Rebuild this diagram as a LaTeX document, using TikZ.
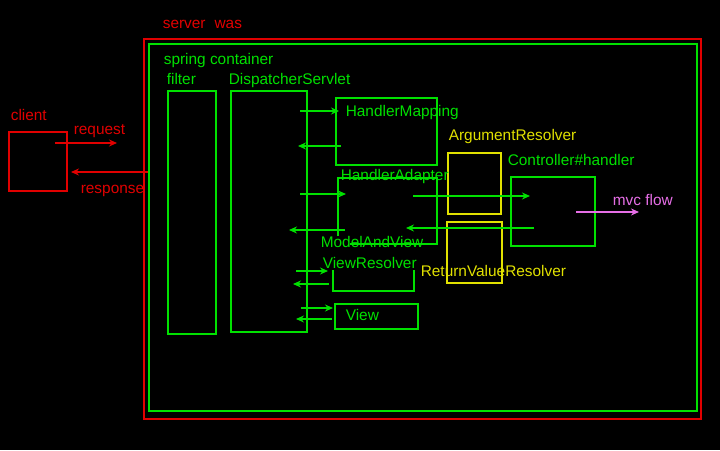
\documentclass[tikz,border=0pt]{standalone}
\usepackage{fontspec}
\setmainfont{Liberation Sans}
\usetikzlibrary{arrows.meta}
\definecolor{cred}{RGB}{225,0,0}
\definecolor{cgreen}{RGB}{0,225,0}
\definecolor{cyellow}{RGB}{225,225,0}
\definecolor{cviolet}{RGB}{230,110,230}
\begin{document}
\begin{tikzpicture}[x=1pt,y=-1pt,line width=1.6pt,
  bx/.style={draw,inner sep=0pt,anchor=north west},
  lbl/.style={anchor=west,inner sep=0pt,text height=11pt,text depth=2pt,font=\fontsize{15.4}{18}\selectfont},
  arr/.style={-{Stealth[length=8pt,width=7pt]}}]
\useasboundingbox (0,0) rectangle (720,450);
\fill[black] (0,0) rectangle (720,450);
% containers
\node[bx,cred,minimum width=557pt,minimum height=380pt] (server) at (143,38) {};
\node[bx,cgreen,minimum width=548pt,minimum height=367pt] (spring) at (148,43) {};
\node[bx,cgreen,minimum width=48pt,minimum height=243pt] (filter) at (167,90) {};
\node[bx,cgreen,minimum width=76pt,minimum height=241pt] (ds) at (230,90) {};
\node[bx,cred,minimum width=58pt,minimum height=59pt] (client) at (8,131) {};
\node[bx,cgreen,minimum width=101pt,minimum height=67pt] (hm) at (335,97) {};
\node[bx,cyellow,minimum width=53pt,minimum height=61pt] (ar) at (447,152) {};
\node[bx,cyellow,minimum width=55pt,minimum height=61pt] (rvr) at (446,221) {};
\node[bx,cgreen,minimum width=84pt,minimum height=69pt] (ctrl) at (510,176) {};
\node[bx,cgreen,minimum width=83pt,minimum height=25pt] (view) at (334,303) {};
% HandlerAdapter box (partly open)
\coordinate (ha1) at (350,244);
\coordinate (ha2) at (437,244);
\coordinate (ha3) at (437,178);
\coordinate (ha4) at (338,178);
\coordinate (ha5) at (338,236);
\draw[cgreen] (ha1) -- (ha2) -- (ha3) -- (ha4) -- (ha5);
% ViewResolver bracket
\coordinate (vr1) at (333,270);
\coordinate (vr2) at (333,291);
\coordinate (vr3) at (414,291);
\coordinate (vr4) at (414,270);
\draw[cgreen] (vr1) -- (vr2) -- (vr3) -- (vr4);
% arrows
\coordinate (rq1) at (55,143); \coordinate (rq2) at (117,143);
\coordinate (rs1) at (148,172); \coordinate (rs2) at (71,172);
\draw[cred,arr] (rq1) -- (rq2);
\draw[cred,arr] (rs1) -- (rs2);
\coordinate (a1s) at (300,111); \coordinate (a1e) at (339,111);
\coordinate (a2s) at (341,146); \coordinate (a2e) at (298,146);
\coordinate (a3s) at (300,194); \coordinate (a3e) at (346,194);
\coordinate (a4s) at (345,230); \coordinate (a4e) at (289,230);
\coordinate (a5s) at (413,196); \coordinate (a5e) at (530,196);
\coordinate (a6s) at (534,228); \coordinate (a6e) at (406,228);
\coordinate (a7s) at (296,271); \coordinate (a7e) at (328,271);
\coordinate (a8s) at (329,284); \coordinate (a8e) at (293,284);
\coordinate (a9s) at (301,308); \coordinate (a9e) at (333,308);
\coordinate (a10s) at (332,319); \coordinate (a10e) at (296,319);
\foreach \s/\e in {a1s/a1e,a2s/a2e,a3s/a3e,a4s/a4e,a5s/a5e,a6s/a6e,a7s/a7e,a8s/a8e,a9s/a9e,a10s/a10e}
  \draw[cgreen,arr] (\s) -- (\e);
\coordinate (mv1) at (576,212); \coordinate (mv2) at (639,212);
\draw[cviolet,arr] (mv1) -- (mv2);
% labels
\node[lbl,text=cred] (tserver) at (162,24) {server\hspace{9pt}was};
\node[lbl,text=cred] (tclient) at (10,116) {client};
\node[lbl,text=cred] (treq) at (73,130) {request};
\node[lbl,text=cred] (tresp) at (80,189) {response};
\node[lbl,text=cgreen] (tspring) at (163,60) {spring container};
\node[lbl,text=cgreen] (tfilter) at (166,80) {filter};
\node[lbl,text=cgreen] (tds) at (228,80) {DispatcherServlet};
\node[lbl,text=cgreen] (thm) at (345,112) {HandlerMapping};
\node[lbl,text=cgreen] (tha) at (340,176) {HandlerAdapter};
\node[lbl,text=cgreen] (tmav) at (320,243) {ModelAndView};
\node[lbl,text=cgreen] (tvr) at (322,264) {ViewResolver};
\node[lbl,text=cgreen] (tview) at (345,316) {View};
\node[lbl,text=cgreen] (tctrl) at (507,161) {Controller\#handler};
\node[lbl,text=cyellow] (tar) at (448,136) {ArgumentResolver};
\node[lbl,text=cyellow] (trvr) at (420,272) {ReturnValueResolver};
\node[lbl,text=cviolet] (tmvc) at (612,201) {mvc flow};
\end{tikzpicture}
\end{document}
